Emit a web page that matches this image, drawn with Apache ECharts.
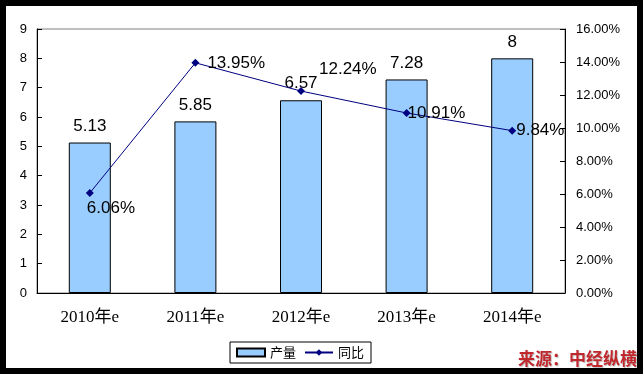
<!DOCTYPE html>
<html><head><meta charset="utf-8">
<script src="https://cdn.jsdelivr.net/npm/echarts@6/dist/echarts.min.js"></script>
<style>html,body{margin:0;padding:0;background:#000;}#c{width:643px;height:374px;}</style>
</head><body><div id="c"></div>
<script>
const categories = ['2010年e','2011年e','2012年e','2013年e','2014年e'];
const output = [5.13, 5.85, 6.57, 7.28, 8];
const yoy = [6.06, 13.95, 12.24, 10.91, 9.84];
const leftTicks = [0,1,2,3,4,5,6,7,8,9];
const seriesNames = ['产量','同比'];
const sourceText = '来源：中经纵横';

// label placement (style only)
const yoyLabelOffsets = [[-12,15],[3,0],[9,-22],[-8,0],[-5,0]];

const chart = echarts.init(document.getElementById('c'));
chart.setOption({
  backgroundColor: '#000',
  animation: false,
  graphic: [
    {type:'rect', left:6, top:6, shape:{width:631, height:362}, style:{fill:'#fff'}, z:-10},
    {type:'text', right:6, top:350, style:{text: sourceText, fill:'#c0282d', font:'bold 17px "Noto Sans CJK SC"', textShadowColor:'rgba(0,0,0,0.25)', textShadowBlur:1, textShadowOffsetX:1, textShadowOffsetY:1}, z:10}
  ],
  grid: {left:37, top:29, right:78, bottom:81, show:true, borderColor:'#808080', borderWidth:1},
  legend: {
    left:230, top:342, orient:'horizontal',
    data:[{name:seriesNames[0], icon:'rect'},{name:seriesNames[1]}],
    borderColor:'#000', borderWidth:1, padding:[4,7,4,6], itemGap:8,
    itemWidth:28, itemHeight:8,
    textStyle:{fontFamily:'"Noto Sans CJK SC"', fontSize:13, color:'#000'}
  },
  xAxis: {
    type:'category', data:categories, boundaryGap:true,
    axisLine:{lineStyle:{color:'#000', width:1}},
    axisTick:{inside:true, length:5, lineStyle:{color:'#000'}},
    axisLabel:{color:'#000', fontFamily:'"Liberation Serif","Noto Sans CJK SC"', fontSize:17, margin:16}
  },
  yAxis: [
    {type:'value', min:0, max:9, interval:1,
     axisLine:{show:true, lineStyle:{color:'#000'}},
     axisTick:{show:true, inside:true, length:5, lineStyle:{color:'#000'}},
     splitLine:{show:false},
     axisLabel:{color:'#000', fontFamily:'"Liberation Sans"', fontSize:13, margin:10}},
    {type:'value', min:0, max:16, interval:2, position:'right',
     axisLine:{show:true, lineStyle:{color:'#000'}},
     axisTick:{show:true, inside:true, length:5, lineStyle:{color:'#000'}},
     splitLine:{show:false},
     axisLabel:{color:'#000', fontFamily:'"Liberation Sans"', fontSize:13, margin:11,
       formatter: v => v.toFixed(2) + '%'}}
  ],
  series: [
    {name:seriesNames[0], type:'bar', data:output, barWidth:42,
     itemStyle:{color:'#99ccff', borderColor:'#000', borderWidth:1},
     label:{show:true, position:'top', distance:8, color:'#000', fontFamily:'"Liberation Sans"', fontSize:17,
       formatter: p => String(p.value)}},
    {name:seriesNames[1], type:'line', yAxisIndex:1,
     data: yoy.map((v,i) => ({value:v, label:{offset:yoyLabelOffsets[i]}})),
     lineStyle:{color:'#000080', width:1}, itemStyle:{color:'#000080'},
     symbol:'diamond', symbolSize:8, z:5,
     label:{show:true, position:'right', distance:5, color:'#000', fontFamily:'"Liberation Sans"', fontSize:17,
       formatter: p => p.value.toFixed(2) + '%'}}
  ]
});
</script></body></html>
